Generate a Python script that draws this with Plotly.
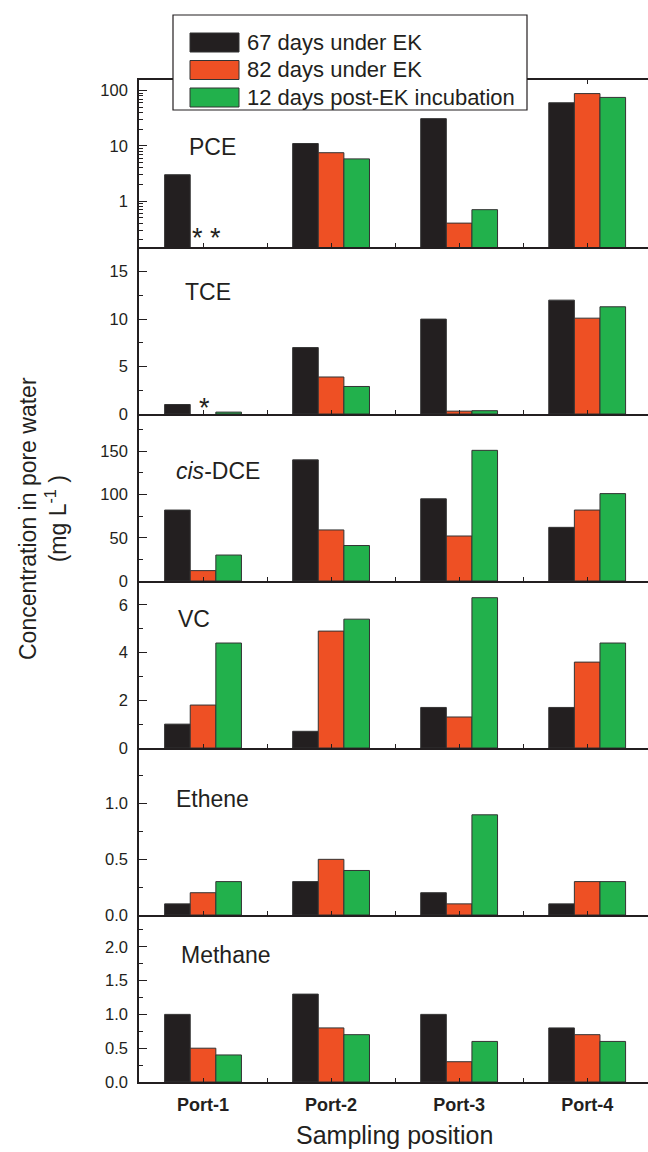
import plotly.graph_objects as go
from plotly.subplots import make_subplots

# ---------------- data ----------------
ports = ["Port-1", "Port-2", "Port-3", "Port-4"]
series_names = ["67 days under EK", "82 days under EK", "12 days post-EK incubation"]
series_colors = ["#231F20", "#EE5024", "#22B14C"]

compounds = ["PCE", "TCE", "<i>cis</i>-DCE", "VC", "Ethene", "Methane"]

pce_67 = [3.0, 11.0, 31.0, 60.0]
pce_82 = [None, 7.5, 0.4, 88.0]
pce_12 = [None, 5.8, 0.7, 75.0]

tce_67 = [1.0, 7.0, 10.0, 12.0]
tce_82 = [None, 3.9, 0.3, 10.1]
tce_12 = [0.2, 2.9, 0.35, 11.3]

dce_67 = [82, 140, 95, 62]
dce_82 = [12, 59, 52, 82]
dce_12 = [30, 41, 151, 101]

vc_67 = [1.0, 0.7, 1.7, 1.7]
vc_82 = [1.8, 4.9, 1.3, 3.6]
vc_12 = [4.4, 5.4, 6.3, 4.4]

ethene_67 = [0.1, 0.3, 0.2, 0.1]
ethene_82 = [0.2, 0.5, 0.1, 0.3]
ethene_12 = [0.3, 0.4, 0.9, 0.3]

methane_67 = [1.0, 1.3, 1.0, 0.8]
methane_82 = [0.5, 0.8, 0.3, 0.7]
methane_12 = [0.4, 0.7, 0.6, 0.6]

panel_data = [
    [pce_67, pce_82, pce_12],
    [tce_67, tce_82, tce_12],
    [dce_67, dce_82, dce_12],
    [vc_67, vc_82, vc_12],
    [ethene_67, ethene_82, ethene_12],
    [methane_67, methane_82, methane_12],
]

# axis settings per panel
y_tickvals = [
    [1, 10, 100],
    [0, 5, 10, 15],
    [0, 50, 100, 150],
    [0, 2, 4, 6],
    [0.0, 0.5, 1.0],
    [0.0, 0.5, 1.0, 1.5, 2.0],
]
y_ticktext = [
    ["1", "10", "100"],
    ["0", "5", "10", "15"],
    ["0", "50", "100", "150"],
    ["0", "2", "4", "6"],
    ["0.0", "0.5", "1.0"],
    ["0.0", "0.5", "1.0", "1.5", "2.0"],
]
y_minor = [
    [0.2, 0.3, 0.4, 0.5, 0.6, 0.7, 0.8, 0.9, 2, 3, 4, 5, 6, 7, 8, 9, 20, 30, 40, 50, 60, 70, 80, 90],
    [2.5, 7.5, 12.5, 17.5],
    [25, 75, 125, 175],
    [1, 3, 5],
    [0.25, 0.75, 1.25],
    [0.25, 0.75, 1.25, 1.75, 2.25],
]
y_ranges = [[-0.83, 2.19], [0, 17.6], [0, 193], [0, 7], [0, 1.5], [0, 2.47]]

# ---------------- figure ----------------
FONT = "Arial, Liberation Sans, sans-serif"
INK = "#231F20"
W, H = 648, 1152
ML, MR, MT, MB = 139, 0, 80, 70
PW, PH = W - ML - MR, H - MT - MB

def px_x(p):
    return (p - ML) / PW

def px_y(p):
    return (H - MB - p) / PH

fig = make_subplots(rows=6, cols=1, vertical_spacing=0)

xpos = list(range(len(ports)))
for r, vals in enumerate(panel_data, start=1):
    for s, v in enumerate(vals):
        fig.add_trace(
            go.Bar(
                x=xpos, y=v, name=series_names[s],
                marker=dict(color=series_colors[s], line=dict(color="#333333", width=1)),
                showlegend=False,
            ),
            row=r, col=1,
        )

fig.update_layout(
    width=W, height=H,
    margin=dict(l=ML, r=MR, t=MT, b=MB),
    barmode="group", bargap=0.4, bargroupgap=0,
    plot_bgcolor="white", paper_bgcolor="white",
    font=dict(family=FONT, color=INK, size=16),
)

half_ticks = [i - 0.5 for i in range(len(ports) + 1)]
for r in range(1, 7):
    xa = dict(
        range=[-0.5, len(ports) - 0.525],
        tickvals=xpos, ticktext=ports,
        ticks="inside", ticklen=4, tickwidth=1.2, tickcolor=INK,
        minor=dict(tickvals=half_ticks, ticks="inside", ticklen=4, tickwidth=1.2, tickcolor=INK),
        showline=True, linecolor=INK, linewidth=1.6,
        showgrid=False, zeroline=False,
        showticklabels=(r == 6),
        tickfont=dict(family=FONT, size=18, color=INK, weight="bold"),
        ticklabelstandoff=6,
    )
    if r == 1:
        xa["mirror"] = "ticks"
    fig.update_xaxes(row=r, col=1, **xa)

    i = r - 1
    ya = dict(
        range=y_ranges[i],
        tickvals=y_tickvals[i], ticktext=y_ticktext[i],
        ticks="inside", ticklen=8, tickwidth=1.2, tickcolor=INK,
        minor=dict(tickvals=y_minor[i], ticks="inside", ticklen=4, tickwidth=1.2, tickcolor=INK),
        showline=True, linecolor=INK, linewidth=1.6,
        showgrid=False, zeroline=False,
        tickfont=dict(family=FONT, size=16.5, color=INK),
        ticklabelstandoff=6,
    )
    if i == 0:
        ya["type"] = "log"
    fig.update_yaxes(row=r, col=1, **ya)

annotations = []
# panel labels (pixel positions of label centers)
label_pos = [(212, 147), (208, 292), (218, 471), (194, 619), (212, 799), (226, 955)]
for name, (lx, ly) in zip(compounds, label_pos):
    annotations.append(dict(
        x=px_x(lx), y=px_y(ly), xref="paper", yref="paper",
        text=name, showarrow=False, xanchor="center", yanchor="middle",
        font=dict(family=FONT, size=23, color=INK),
    ))

# asterisks marking non-detected values
for ax, ay in [(197, 238), (215, 238), (204, 408)]:
    annotations.append(dict(
        x=px_x(ax), y=px_y(ay), xref="paper", yref="paper",
        text="*", showarrow=False, xanchor="center", yanchor="middle",
        font=dict(family=FONT, size=27, color=INK),
    ))

# axis titles
annotations.append(dict(
    x=px_x(43), y=px_y(519), xref="paper", yref="paper",
    text="Concentration in pore water<br>(mg L<sup>-1</sup> )", textangle=-90,
    showarrow=False, xanchor="center", yanchor="middle",
    font=dict(family=FONT, size=23, color=INK),
))
annotations.append(dict(
    x=px_x(394), y=px_y(1135), xref="paper", yref="paper",
    text="Sampling position", showarrow=False, xanchor="center", yanchor="middle",
    font=dict(family=FONT, size=25, color=INK),
))

# legend (drawn box)
shapes = [dict(
    type="rect", xref="paper", yref="paper",
    x0=px_x(173), x1=px_x(527), y0=px_y(110), y1=px_y(15),
    fillcolor="white", line=dict(color=INK, width=1.2), layer="above",
)]
row_centers = [42.5, 70, 97.5]
for name, color, cy in zip(series_names, series_colors, row_centers):
    shapes.append(dict(
        type="rect", xref="paper", yref="paper",
        x0=px_x(190), x1=px_x(239), y0=px_y(cy + 9.5), y1=px_y(cy - 9.5),
        fillcolor=color, line=dict(color="#333333", width=1), layer="above",
    ))
    annotations.append(dict(
        x=px_x(245), y=px_y(cy), xref="paper", yref="paper",
        text=name, showarrow=False, xanchor="left", yanchor="middle",
        font=dict(family=FONT, size=22, color=INK),
    ))

fig.update_layout(annotations=annotations, shapes=shapes)

fig.write_html("out.html")
